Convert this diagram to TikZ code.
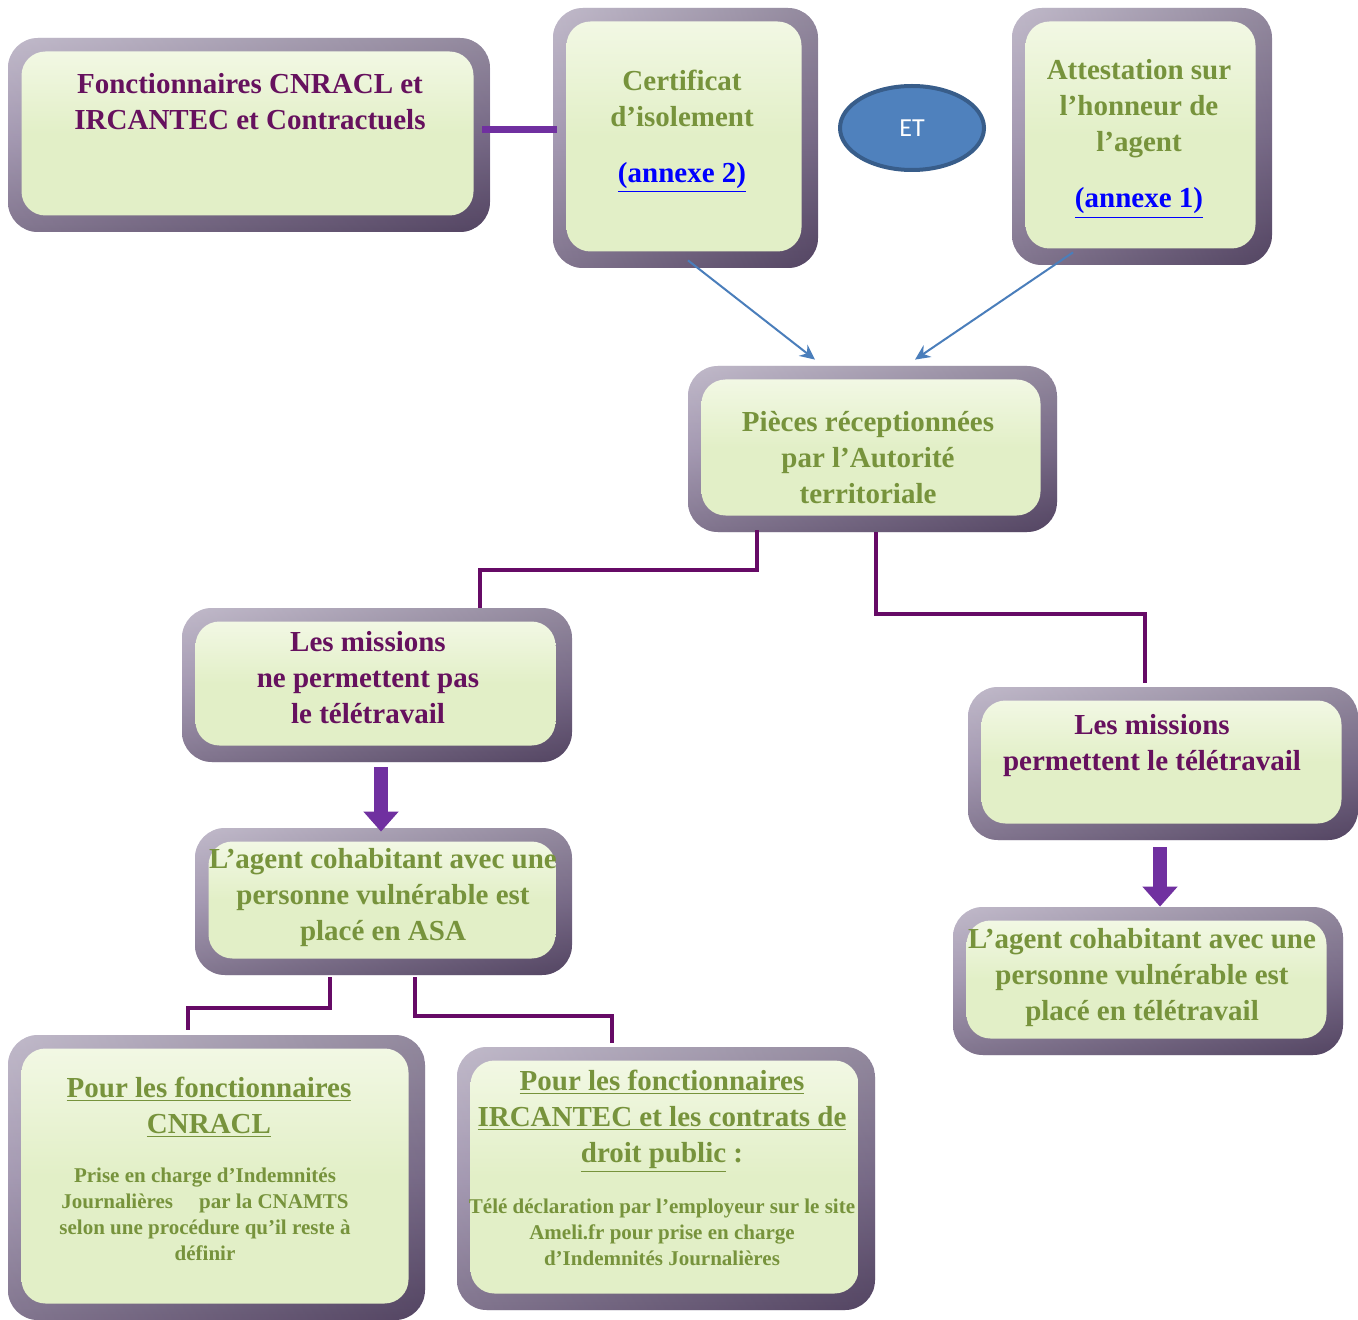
\documentclass[tikz,border=0pt]{standalone}
\usepackage{fontspec}
\setmainfont{Liberation Serif}
\newfontfamily\etfont{Carlito}
\usetikzlibrary{arrows.meta,shapes.geometric}

\definecolor{framelight}{HTML}{DED3EC}
\definecolor{framemid}{HTML}{B3A2C8}
\definecolor{framedark}{HTML}{7C6990}
\definecolor{panel}{HTML}{E2EFC7}
\definecolor{paneltop}{HTML}{F2F8E4}
\definecolor{plum}{HTML}{66115E}
\definecolor{olive}{HTML}{77933C}
\definecolor{linkblue}{HTML}{0000FF}
\definecolor{violet}{HTML}{7030A0}
\definecolor{wire}{HTML}{660A66}
\definecolor{arrowblue}{HTML}{4A7EBB}
\definecolor{etfill}{HTML}{4F81BD}
\definecolor{etline}{HTML}{385D8A}

\tikzset{
  frame/.style={draw=none, inner sep=0pt, rounded corners=15pt,
    top color=framelight, bottom color=framedark, middle color=framemid,
    path picture={\fill[left color=white, right color=black!80!violet, opacity=0.2]
      (path picture bounding box.south west) rectangle (path picture bounding box.north east);}},
  panelbox/.style={draw=none, inner sep=0pt, rounded corners=12pt,
    top color=paneltop, bottom color=panel, middle color=panel},
  lbl/.style={align=center, inner sep=0pt, font=\bfseries\fontsize{14.5}{18}\selectfont},
  small/.style={align=center, inner sep=0pt, font=\bfseries\fontsize{10.5}{13}\selectfont},
  wirepath/.style={draw=wire, line width=2pt},
  bluearrow/.style={draw=arrowblue, line width=1pt, -{Stealth[length=7.5pt,width=7pt]}},
  blockarrow/.style={draw=violet, line width=7pt, -{Triangle[width=17pt,length=10pt]}},
}

% bevelled panel: name, centre x, centre y, width, height (in picture units)
\newcommand\bevbox[5]{%
  \node[frame, minimum width=#4*0.5pt, minimum height=#5*0.5pt] (#1) at (#2,#3) {};
  \node[panelbox, minimum width=#4*0.5pt-15pt, minimum height=#5*0.5pt-15pt]
    (#1-in) at ([xshift=-0.75pt,yshift=0.75pt]#1.center) {};
}

\begin{document}
\begin{tikzpicture}[x=0.5pt,y=-0.5pt]
\path[use as bounding box, fill=white] (0,0) rectangle (1358,1320);

% panels
\bevbox{fonc}{249}{135}{482}{194}
\bevbox{cert}{685.5}{138}{265}{260}
\bevbox{att}{1142}{136.5}{260}{257}
\bevbox{pieces}{872.5}{449}{369}{166}
\bevbox{m1}{377}{685}{390}{154}
\bevbox{m2}{1163}{763.5}{390}{153}
\bevbox{asa}{383.5}{901.5}{377}{147}
\bevbox{tele}{1148}{981}{390}{148}
\bevbox{cnr}{216.5}{1177.5}{417}{285}
\bevbox{irc}{666}{1178.5}{418}{263}

% texts
\node[lbl, text=plum] (t-fonc) at (250,102) {Fonctionnaires CNRACL et\\IRCANTEC et Contractuels};
\node[lbl, text=olive] (t-cert) at (682,131)
  {Certificat\\d’isolement\\[10pt]\textcolor{linkblue}{\underline{(annexe 2)}}};
\node[lbl, text=olive] (t-att) at (1139,139)
  {Attestation sur\\l’honneur de\\l’agent\\[10pt]\textcolor{linkblue}{\underline{(annexe 1)}}};
\node[lbl, text=olive] (t-pieces) at (868,458) {Pièces réceptionnées\\par l’Autorité\\territoriale};
\node[lbl, text=plum] (t-m1) at (368,678) {Les missions\\ne permettent pas\\le télétravail};
\node[lbl, text=plum] (t-m2) at (1152,746) {Les missions\\permettent le télétravail};
\node[lbl, text=olive] (t-asa) at (383,898) {L’agent cohabitant avec une\\personne vulnérable est\\placé en ASA};
\node[lbl, text=olive] (t-tele) at (1142,978) {L’agent cohabitant avec une\\personne vulnérable est\\placé en télétravail};
\node[lbl, text=olive] (t-cnr) at (209,1107) {\underline{Pour les fonctionnaires}\\\underline{CNRACL}};
\node[small, text=olive] (b-cnr) at (205,1214)
  {Prise en charge d’Indemnités\\Journalières\quad\ par la CNAMTS\\selon une procédure qu’il reste à\\définir};
\node[lbl, text=olive] (t-irc) at (662,1121)
  {\underline{Pour les fonctionnaires}\\\underline{IRCANTEC et les contrats de}\\\underline{droit public} :};
\node[small, text=olive] (b-irc) at (662,1232)
  {Télé déclaration par l’employeur sur le site\\Ameli.fr pour prise en charge\\d’Indemnités Journalières};

% ET
\node[ellipse, draw=etline, line width=2pt, fill=etfill, minimum width=72pt, minimum height=42pt,
  text=white, font=\etfont\fontsize{13}{15}\selectfont] (et) at (912,128) {ET};

% connectors
\draw[violet, line width=3.5pt] ([xshift=-4pt,yshift=2.5pt]fonc.east) -- ([xshift=2pt,yshift=4pt]cert.west);
\draw[bluearrow] ([xshift=1.25pt,yshift=4pt]cert.south) -- ([xshift=-28.75pt,yshift=3pt]pieces.north);
\draw[bluearrow] ([xshift=-34.5pt,yshift=6.5pt]att.south) -- ([xshift=21.25pt,yshift=3pt]pieces.north);
\draw[wirepath] ([xshift=-57.75pt,yshift=1pt]pieces.south) -- ++(0,40) -| ([xshift=51.5pt]m1.north);
\draw[wirepath] ([xshift=1.75pt]pieces.south) -- ++(0,82) -| ([xshift=-9pt,yshift=2pt]m2.north);
\draw[blockarrow] ([xshift=2pt,yshift=-2.5pt]m1.south) -- ([xshift=-1.25pt,yshift=-2pt]asa.north);
\draw[blockarrow] ([xshift=-1.5pt,yshift=-3.5pt]m2.south) -- ([xshift=6pt]tele.north);
\draw[wirepath] ([xshift=-26.75pt,yshift=-1pt]asa.south) -- ++(0,31) -| ([xshift=-14.25pt,yshift=2.5pt]cnr.north);
\draw[wirepath] ([xshift=15.75pt,yshift=-1pt]asa.south) -- ++(0,39) -| ([xshift=-27pt,yshift=2pt]irc.north);
\end{tikzpicture}
\end{document}
